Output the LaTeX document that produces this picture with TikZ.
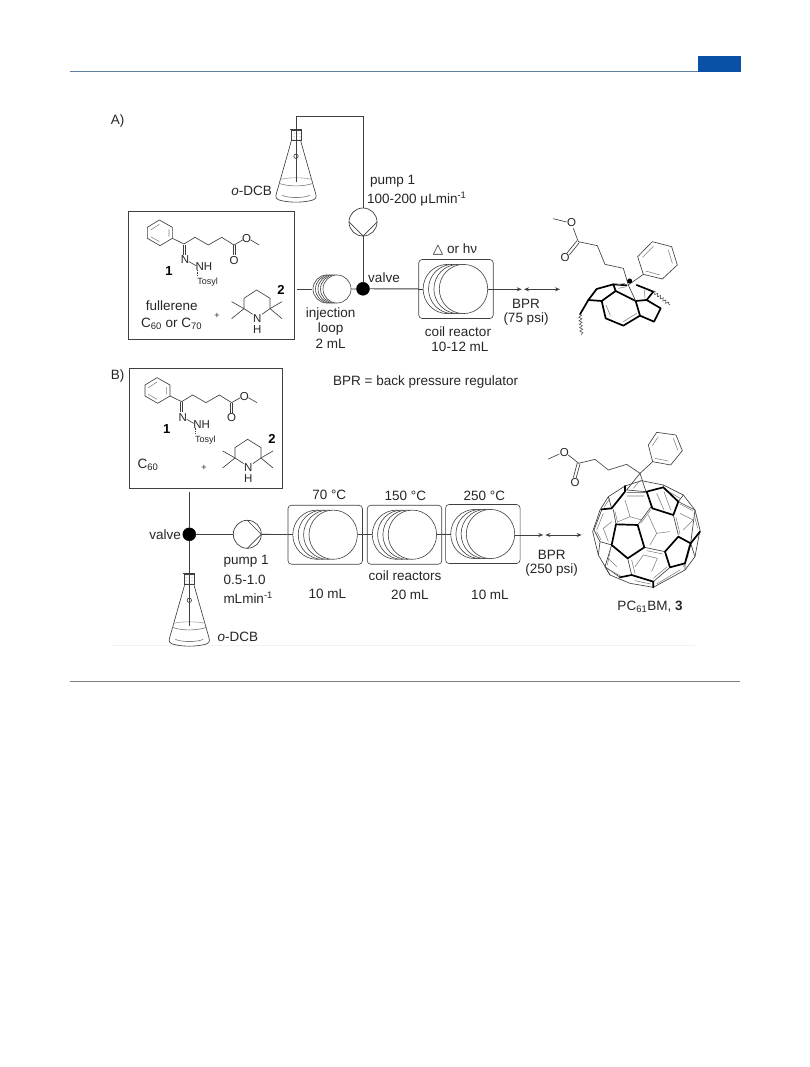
\documentclass[tikz,border=0pt]{standalone}
\usepackage{fontspec}
\setmainfont{Liberation Sans}
\newfontfamily\dvfont{DejaVu Sans}
\usetikzlibrary{arrows.meta,decorations.pathmorphing,patterns}
\definecolor{ink}{HTML}{262626}
\definecolor{ln}{HTML}{404040}
\definecolor{pageblue}{HTML}{0A50A6}
\definecolor{pagerule}{HTML}{5F7F9F}
\tikzset{
  txt/.style={inner sep=0pt,text=ink,font=\fontsize{13.5}{15}\selectfont,align=center},
  atom/.style={inner sep=0pt,text=ink,font=\fontsize{11.5}{13}\selectfont},
  small/.style={inner sep=0pt,text=ink,font=\fontsize{9}{10}\selectfont},
  bold/.style={inner sep=0pt,text=black,font=\fontsize{13}{14}\selectfont\bfseries},
  bond/.style={draw=ln,line width=0.65pt},
  flow/.style={draw=ln,line width=0.85pt},
  thickb/.style={draw=black,line width=1.7pt,line join=round,line cap=round},
  thinb/.style={draw=ln,line width=0.6pt},
  dbl/.style={draw=gray,line width=0.55pt},
  reactor/.style={draw=ln,line width=0.6pt,rounded corners=3.5pt,inner sep=0pt,minimum width=74.5pt,minimum height=59pt},
  valvenode/.style={circle,fill=black,draw=black,inner sep=0pt,minimum size=13pt},
  pumpnode/.style={circle,draw=ln,line width=0.7pt,fill=white,inner sep=0pt,minimum size=28pt},
  coil/.style={draw=ln,line width=0.6pt,fill=white},
  tipflow/.style={flow,-{Stealth[length=5pt,width=4pt]}},
  tipboth/.style={flow,{Stealth[length=5pt,width=4pt]}-{Stealth[length=5pt,width=4pt]}},
  wig/.style={draw=ln,line width=0.5pt,decorate,decoration={snake,amplitude=1.5pt,segment length=3.5pt}},
}
\newcommand\coilset[3]{% x of leftmost centre, x step, y
  \foreach \i in {0,1,2,3}{
    \draw[coil] ({#1+\i*#2},#3) ellipse (24.2pt and 24.6pt);
  }
}
\newcommand\myflask[2]{%
 \begin{scope}[shift={(#1,#2)}]
  \draw[bond,fill=white] (-4.8,12) -- (-19.8,65) .. controls (-21,68.5) and (-19,70) .. (-16,71) .. controls (-6,73.5) and (6,73.5) .. (16,71) .. controls (19,70) and (21,68.5) .. (19.8,65) -- (4.8,12);
  \draw[bond,gray] (-17,54) .. controls (-8,57.5) and (8,57.5) .. (17,54);
  \draw[bond,gray!70] (-15.5,50) .. controls (-8,48) and (8,48) .. (15.5,50);
  \draw[bond,gray] (-14,66) .. controls (-8,69) and (8,69) .. (14,66);
  \draw[bond,pattern=dots,pattern color=gray] (-5,1.5) rectangle (5,11.5);
  \draw[bond] (-6,0.5) -- (6,0.5);
  \draw[bond] (0,0.5) -- (0,53);
  \draw[bond] (0,27) circle (2.2pt);
 \end{scope}}
\newcommand\hydra[2]{%
 \begin{scope}[shift={(#1,#2)},x=0.3333pt,y=-0.3333pt]
  \draw[bond] (142,382)--(178,360)--(217,382)--(217,415)--(180,437)--(142,415)--cycle;
  \draw[dbl] (152,390)--(178,373) (207,388)--(207,410) (178,425)--(152,410);
  \draw[bond] (217,415)--(252,432)--(285,412)--(325,435)--(365,412)--(402,435);
  \draw[bond] (249,434)--(249,464) (255,434)--(255,464);
  \draw[bond] (399,436)--(399,465) (405,436)--(405,465);
  \draw[bond] (402,435)--(428,420) (452,420)--(478,435);
  \draw[bond] (267,485)--(288,497);
  \draw[bond,densely dotted] (293,510)--(293,526);
  \node[atom] at (255,480) {N};
  \node[atom] at (312,500) {NH};
  \node[atom] at (402,481) {O};
  \node[atom] at (440,416) {O};
  \node[bold] at (207,513) {1};
  \node[small] at (323,547) {Tosyl};
 \end{scope}}
\newcommand\piper[2]{%
 \begin{scope}[shift={(#1,#2)},x=0.3333pt,y=-0.3333pt]
  \draw[bond] (458,643)--(432,626)--(432,595)--(470,570)--(510,595)--(510,626)--(486,643);
  \draw[bond] (432,626)--(395,605) (432,626)--(395,656) (510,626)--(546,605) (510,626)--(546,656);
  \node[atom] at (472,655) {N};
  \node[atom] at (472,688) {H};
  \node[bold] at (543,570) {2};
 \end{scope}}
\begin{document}
\begin{tikzpicture}[x=1pt,y=-1pt]
\useasboundingbox (0,0) rectangle (809,1067);
\fill[white] (0,0) rectangle (809,1067);
% page furniture
\draw[pagerule,line width=0.7pt] (70,71.5) -- (698,71.5);
\fill[pageblue] (698,56.5) rectangle (740.5,72);
\draw[gray,line width=0.7pt] (70,681.5) -- (740,681.5);
\draw[gray!10,line width=0.7pt] (112,645.5) -- (695,645.5);

%% ---------- A ----------
\node[txt] at (117.5,121.5) {A)};
\node[draw=ln,line width=1pt,inner sep=0pt,minimum width=166pt,minimum height=127pt] (boxA) at (211,275.5) {};
\myflask{296}{129.3}
\coordinate (tubeA) at (296,130);
\coordinate (cornA1) at (296,116);
\coordinate (cornA2) at (363,116);
\node[pumpnode] (pumpA) at (363,222) {};
\node[valvenode] (valveA) at (363,288.8) {};
\draw[flow] (tubeA) -- (cornA1) -- (cornA2) -- (pumpA);
\draw[flow] (pumpA) -- (valveA);
\draw[bond,line width=0.7pt] (349,222) -- (363,236) -- (377,222);
\node[txt] at (392.7,181.5) {pump 1};
\node[txt,anchor=west] at (367,199) {100-200 μLmin\textsuperscript{-1}};
\node[txt,anchor=east] at (272,191) {\textit{o}-DCB};
\hydra{100}{100}
\piper{100}{100}
\node[txt] at (171.7,306) {fullerene};
\node[txt] at (171.7,323.5) {C\textsubscript{60} or C\textsubscript{70}};
\node[small] at (217,316) {+};
% injection loop
\coordinate (loopin) at (297,289);
\node[draw=none,inner sep=0pt,minimum size=2pt] (loopL) at (313,289) {};
\foreach \x in {327,329.5,332,334.5,337}{ \draw[coil] (\x,289) ellipse (14pt and 14pt); }
\draw[flow] (loopin) -- (loopL);
\node[coordinate] (loopR) at (351,289) {};
\draw[flow] (loopR) -- (valveA);
\node[txt] at (330.7,314) {injection};
\node[txt] at (330.7,329.3) {loop};
\node[txt] at (330.7,343.5) {2 mL};
\node[txt] at (384,277.5) {valve};
% coil reactor A
\node[reactor] (rA) at (456,289) {};
\draw[flow] (valveA) -- (rA);
\coilset{447.3}{5.4}{289}
\draw[bond] (rA.west) -- (423,289);
\coordinate (ar1) at (521.7,289.3);
\coordinate (ar2) at (524,289.3);
\coordinate (ar3) at (560,289.3);
\draw[tipflow] (488.3,289.3) -- (ar1);
\draw[tipboth] (ar2) -- (ar3);
\node[txt] at (455,249) {{\dvfont △} or hν};
\node[txt] at (526,304) {BPR};
\node[txt] at (526,319) {(75 psi)};
\node[txt] at (458,331.5) {coil reactor};
\node[txt] at (460,347) {10-12 mL};
\node[txt,anchor=west] at (333,382) {BPR = back pressure regulator};
% product fragment A
\begin{scope}[shift={(545,225)},x=0.3333pt,y=-0.3333pt]
 \draw[bond] (24,-19)--(65,-9) (85,10)--(100,50)--(157,62)--(180,118)--(235,130)--(250,180);
 \draw[bond] (96,47)--(66,84) (103,53)--(73,90);
 \node[atom] at (80,-6) {O};
 \node[atom] at (60,97) {O};
 \draw[bond] (278,95)--(322,50)--(380,65)--(397,120)--(352,162)--(295,148)--cycle;
 \draw[dbl] (292,97)--(325,64) (370,75)--(382,115) (345,150)--(302,138);
 \draw[bond] (295,148)--(250,180);
 \draw[thickb] (105,268)--(130,225)--(155,192)--(205,178)--(212,198)--(170,228)--(130,225);
 \draw[thickb] (205,178)--(245,181);
 \draw[thickb] (212,198)--(272,228)--(285,272)--(235,302)--(182,280)--(170,228);
 \draw[thickb] (285,272)--(327,290)--(347,250)--(305,225)--(272,228);
 \draw[thickb] (275,180)--(325,200)--(305,225);
 \draw[bond] (250,180)--(272,228);
 \draw[dbl] (220,190)--(245,185) (215,180)--(240,175) (183,240)--(196,272) (235,290)--(275,265) (298,195)--(300,220);
 \fill (254,168) circle (2.5pt);
 \draw[wig] (105,268)--(110,330);
 \draw[wig] (325,200)--(375,240);
\end{scope}

%% ---------- B ----------
\node[txt] at (117.7,376) {B)};
\node[draw=ln,line width=1pt,inner sep=0pt,minimum width=153.4pt,minimum height=120pt] (boxB) at (206,428.3) {};
\hydra{97.67}{257.67}
\piper{91}{249.3}
\node[txt] at (148,464.5) {C\textsubscript{60}};
\node[small] at (204,468) {+};
\coordinate (inB) at (189.3,491.7);
\node[valvenode] (valveB) at (189.3,534.3) {};
\node[pumpnode] (pumpB) at (247.3,534.3) {};
\coordinate (tubeB) at (189.3,573.5);
\myflask{189.3}{573.3}
\draw[flow] (inB) -- (valveB);
\draw[flow] (valveB) -- (tubeB);
\draw[flow] (valveB) -- (pumpB);
\draw[bond,line width=0.7pt] (247.3,520.3) -- (261.3,534.3) -- (247.3,548.3);
\node[txt,anchor=east] at (181,535) {valve};
\node[txt,anchor=west] at (223.3,561) {pump 1};
\node[txt,anchor=west] at (223.3,580) {0.5-1.0};
\node[txt,anchor=west] at (223.3,598) {mLmin\textsuperscript{-1}};
\node[txt,anchor=west] at (217.3,636.7) {\textit{o}-DCB};
\node[reactor] (r1) at (325.2,534.7) {};
\node[reactor] (r2) at (404.5,534.7) {};
\node[reactor] (r3) at (482.8,534) {};
\draw[flow] (pumpB) -- (r1);
\draw[flow] (r1) -- (r2);
\draw[flow] (r2) -- (r3);
\coilset{317}{5.4}{534.7}
\coilset{396.5}{5.3}{534.7}
\coilset{474.9}{5.2}{534}
\draw[bond] (r1.west) -- (292.7,534.7);
\draw[bond] (r1.east) -- (357.5,534.7);
\draw[bond] (r2.west) -- (372.3,534.7);
\draw[bond] (r2.east) -- (436.5,534.7);
\draw[bond] (r3.west) -- (450.7,534);
\coordinate (br1) at (543.3,535);
\coordinate (br2) at (545.3,535);
\coordinate (br3) at (581.7,535);
\draw[tipflow] (514.5,535) -- (br1);
\draw[tipboth] (br2) -- (br3);
\node[txt] at (329.3,495) {70 °C};
\node[txt] at (405.3,495.5) {150 °C};
\node[txt] at (484.3,495.5) {250 °C};
\node[txt] at (405,576) {coil reactors};
\node[txt] at (327.3,594.3) {10 mL};
\node[txt] at (410,595) {20 mL};
\node[txt] at (490,595) {10 mL};
\node[txt] at (551.7,555) {BPR};
\node[txt] at (551.7,570) {(250 psi)};
\node[txt] at (650,606.7) {PC\textsubscript{61}BM, \textbf{3}};
% PCBM
\begin{scope}[shift={(520,430)},x=0.3333pt,y=-0.3333pt]
 % side chain
 \draw[bond] (85,87)--(118,72) (145,75)--(176,100)--(225,88)--(265,120)--(320,103)--(360,130);
 \draw[bond] (172,98)--(160,143) (180,102)--(168,145);
 \node[atom] at (133,67) {O};
 \node[atom] at (165,158) {O};
 \draw[bond] (385,45)--(410,7)--(468,15)--(487,62)--(452,105)--(398,95)--cycle;
 \draw[dbl] (397,47)--(415,20) (460,25)--(473,60) (445,93)--(405,85);
 \draw[bond] (398,95)--(360,130);
 % outline
 \draw[bond] (315,168)--(365,152)--(430,165)--(490,195)--(525,240)--(540,300)--(525,380)--(495,420)--(400,472)--(330,460)--(270,435)--(235,375)--(218,305)--(240,240)--(265,200)--cycle;
 % cyclopropane
 \draw[bond] (360,130)--(320,180)--(378,185)--cycle;
 \draw[dbl] (340,175)--(362,150);
 % front faces
 \draw[bond] (280,238)--(288,282) (320,188)--(380,188) (353,285)--(395,228)
   (373,352)--(435,365) (323,385)--(335,435) (275,345)--(240,335)--(222,300)--(245,240)
   (240,335)--(235,375) (275,345)--(255,410)--(270,435) (255,410)--(300,442)
   (435,365)--(450,412) (450,412)--(400,455) (460,255)--(475,315)
   (475,215)--(525,240) (512,340)--(525,380) (495,400)--(495,420)
   (265,200)--(275,235) (525,240)--(512,340) (430,172)--(430,165) (475,215)--(490,195);
 % inner double bonds
 \draw[dbl] (362,280)--(392,240) (320,198)--(372,198) (285,245)--(293,278)
   (380,362)--(428,372) (345,430)--(335,390) (400,445)--(442,410)
   (468,262)--(480,312) (480,222)--(518,242) (522,252)--(533,295) (508,345)--(495,392)
   (230,300)--(250,250) (243,330)--(230,305) (262,405)--(272,355) (305,440)--(260,415)
   (345,452)--(392,462) (410,462)--(480,420) (438,180)--(480,205) (270,205)--(252,232)
   (410,190)--(432,240) (432,185)--(452,240);
 % back faces
 \draw[dbl] (315,210)--(330,260)--(295,275) (330,260)--(365,270)
   (385,255)--(410,310)--(390,345) (410,310)--(450,305)
   (370,375)--(412,385)--(395,425) (370,375)--(345,410)
   (275,275)--(250,295)--(265,335) (265,385)--(290,410)
   (480,250)--(520,270)--(490,300) (505,375)--(490,410);
 % thick bonds
 \draw[thickb] (288,283)--(353,285)--(373,352)--(323,385)--(275,345)--cycle;
 \draw[thickb] (380,185)--(430,172)--(475,215)--(460,255)--(397,235)--cycle;
 \draw[thickb] (475,320)--(512,340)--(495,400)--(450,412)--(435,365)--cycle;
 \draw[thickb] (300,442)--(335,435)--(400,455)--(400,472);
 \draw[thickb] (245,238)--(275,235)--(315,185)--(315,168);
 \draw[thickb] (512,340)--(540,305);
\end{scope}
\end{tikzpicture}
\end{document}
